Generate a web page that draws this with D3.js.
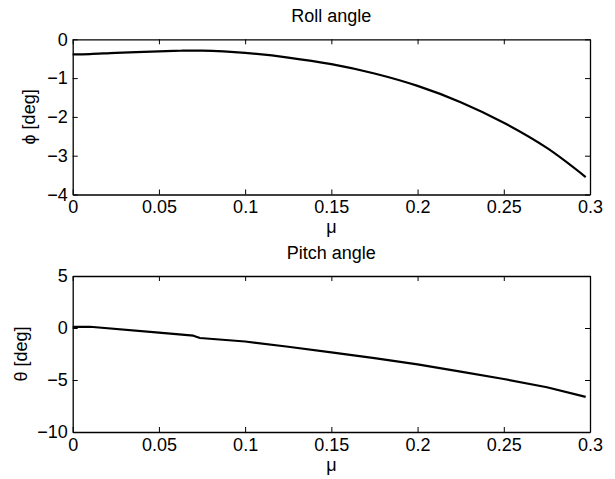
<!DOCTYPE html>
<html>
<head>
<meta charset="utf-8">
<script src="https://cdn.jsdelivr.net/npm/d3@7"></script>
<style>
  body { margin: 0; background: #fff; }
  svg { display: block; }
  text { font-family: Helvetica, Arial, "Liberation Sans", sans-serif; fill: #000; }
</style>
</head>
<body>
<svg id="chart" width="615" height="479"></svg>
<script>
var width = 615, height = 479;

// mu values and angles
var mu = [0, 0.01, 0.025, 0.05, 0.0625, 0.075, 0.0875, 0.1, 0.125, 0.15, 0.175, 0.2, 0.225, 0.25, 0.275, 0.2975];
var roll = [-0.39, -0.38, -0.35, -0.31, -0.295, -0.29, -0.31, -0.35, -0.47, -0.64, -0.88, -1.2, -1.62, -2.15, -2.8, -3.55];

var muPitch = [0, 0.01, 0.05, 0.07, 0.0738, 0.1, 0.125, 0.15, 0.175, 0.2, 0.225, 0.25, 0.275, 0.2975];
var pitch = [0.1, 0.12, -0.45, -0.74, -0.96, -1.3, -1.8, -2.35, -2.9, -3.5, -4.2, -4.9, -5.7, -6.62];

var xTicks = [0, 0.05, 0.1, 0.15, 0.2, 0.25, 0.3];
var rollTicks = [0, -1, -2, -3, -4];
var pitchTicks = [5, 0, -5, -10];

var panels = [
  {title: 'Roll angle', ylabel: '\u03d5 [deg]', xs: mu, ys: roll, domain: [-4, 0], ticks: rollTicks,
   top: 39.3, bottom: 194.5, ylabelX: 29, muGap: 38, curve: d3.curveCatmullRom.alpha(0.5)},
  {title: 'Pitch angle', ylabel: '\u03b8 [deg]', xs: muPitch, ys: pitch, domain: [-10, 5], ticks: pitchTicks,
   top: 276, bottom: 432, ylabelX: 21, muGap: 39, curve: d3.curveLinear}
];

var left = 72.7, right = 590;
var svg = d3.select('#chart');

function fmt(d){
  var s = String(+Math.abs(d).toFixed(3));
  return (d < 0 ? '\u2212' : '') + s;
}

panels.forEach(function(p){
  var x = d3.scaleLinear().domain([0, 0.3]).range([left, right]);
  var y = d3.scaleLinear().domain(p.domain).range([p.bottom, p.top]);
  var g = svg.append('g');

  g.append('rect')
    .attr('x', left).attr('y', p.top)
    .attr('width', right - left).attr('height', p.bottom - p.top)
    .attr('fill', 'white');

  // bottom axis with labels, ticks pointing inward
  g.append('g')
    .attr('transform', 'translate(0,' + p.bottom + ')')
    .call(d3.axisBottom(x).tickValues(xTicks).tickFormat(fmt).tickSizeInner(-5).tickSizeOuter(0).tickPadding(6));
  g.append('g')
    .attr('transform', 'translate(0,' + p.top + ')')
    .call(d3.axisTop(x).tickValues(xTicks).tickFormat('').tickSizeInner(-5).tickSizeOuter(0));
  g.append('g')
    .attr('transform', 'translate(' + left + ',0)')
    .call(d3.axisLeft(y).tickValues(p.ticks).tickFormat(fmt).tickSizeInner(-5).tickSizeOuter(0).tickPadding(5));
  g.append('g')
    .attr('transform', 'translate(' + right + ',0)')
    .call(d3.axisRight(y).tickValues(p.ticks).tickFormat('').tickSizeInner(-5).tickSizeOuter(0));

  g.selectAll('.domain').attr('stroke', '#000').attr('stroke-width', 1.3);
  g.selectAll('.tick line').attr('stroke', '#000').attr('stroke-width', 1);
  g.selectAll('.tick text').style('font-size', '18px').attr('fill', '#000')
    .style('font-family', 'Helvetica, Arial, "Liberation Sans", sans-serif');

  var pts = p.xs.map(function(v, i){ return [v, p.ys[i]]; });
  g.append('path')
    .datum(pts)
    .attr('fill', 'none')
    .attr('stroke', '#000')
    .attr('stroke-width', 2.2)
    .attr('stroke-linejoin', 'round')
    .attr('d', d3.line().x(function(d){ return x(d[0]); }).y(function(d){ return y(d[1]); }).curve(p.curve));

  g.append('text')
    .attr('x', (left + right) / 2).attr('y', p.top - 17)
    .attr('text-anchor', 'middle')
    .style('font-size', '18px')
    .text(p.title);

  g.append('text')
    .attr('x', (left + right) / 2).attr('y', p.bottom + p.muGap)
    .attr('text-anchor', 'middle')
    .style('font-size', '18px')
    .text('\u03bc');

  g.append('text')
    .attr('transform', 'translate(' + p.ylabelX + ',' + ((p.top + p.bottom) / 2) + ') rotate(-90)')
    .attr('text-anchor', 'middle')
    .attr('dy', '0.35em')
    .style('font-size', '18px')
    .text(p.ylabel);
});
</script>
</body>
</html>
